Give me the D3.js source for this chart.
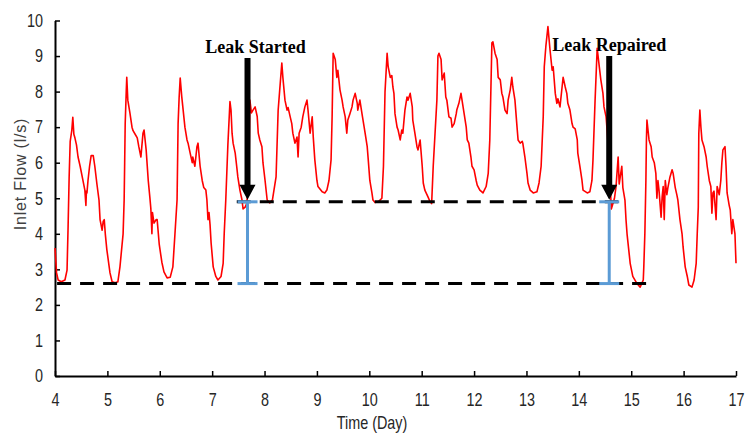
<!DOCTYPE html>
<html>
<head>
<meta charset="utf-8">
<script src="https://cdn.jsdelivr.net/npm/d3@7"></script>
<style>
  body { margin: 0; background: #fff; }
</style>
</head>
<body>
<div id="chart"></div>
<script>
/* global d3 */

const WIDTH = 752
const HEIGHT = 434

const xTicks = [4, 5, 6, 7, 8, 9, 10, 11, 12, 13, 14, 15, 16, 17]
const yTicks = [0, 1, 2, 3, 4, 5, 6, 7, 8, 9, 10]

// inlet flow (l/s): [day, flow]
const flowSeries = [
  [4.00, 3.6], [4.03, 2.9], [4.06, 2.7], [4.12, 2.65], [4.19, 2.7], [4.23, 2.98], [4.25, 4.2], [4.27, 5.6],
  [4.29, 6.6], [4.32, 6.9], [4.34, 7.28], [4.36, 6.8], [4.38, 6.7], [4.41, 6.5], [4.44, 6.16], [4.48, 5.9],
  [4.52, 5.6], [4.57, 5.23], [4.59, 4.8], [4.60, 5.2], [4.61, 5.15], [4.63, 5.5], [4.66, 5.9], [4.69, 6.2],
  [4.73, 6.2], [4.76, 5.9], [4.80, 5.4], [4.84, 4.95], [4.86, 4.4], [4.90, 4.1], [4.92, 4.35], [4.94, 4.4],
  [4.96, 4.0], [4.99, 3.55], [5.05, 2.9], [5.09, 2.65], [5.15, 2.62], [5.20, 2.65], [5.24, 3.07], [5.30, 4.0],
  [5.32, 4.95], [5.33, 6.0], [5.34, 7.1], [5.36, 8.0], [5.37, 8.4], [5.39, 7.76], [5.43, 7.4], [5.47, 7.0],
  [5.49, 6.9], [5.53, 6.8], [5.57, 6.7], [5.60, 6.45], [5.64, 6.16], [5.66, 6.5], [5.68, 6.83], [5.70, 6.92],
  [5.74, 6.36], [5.78, 5.5], [5.81, 5.04], [5.83, 4.7], [5.85, 4.0], [5.86, 4.6], [5.89, 4.3], [5.93, 4.4],
  [5.95, 4.4], [5.99, 3.7], [6.04, 3.2], [6.08, 2.93], [6.14, 2.76], [6.20, 2.78], [6.25, 3.07], [6.29, 4.0],
  [6.33, 4.95], [6.35, 7.1], [6.37, 7.85], [6.39, 8.38], [6.42, 7.85], [6.44, 7.57], [6.48, 7.0], [6.52, 6.64],
  [6.54, 6.55], [6.58, 6.27], [6.62, 6.0], [6.63, 6.16], [6.67, 5.9], [6.71, 6.45], [6.73, 6.55], [6.77, 5.9],
  [6.81, 5.5], [6.84, 5.3], [6.88, 5.23], [6.90, 4.95], [6.92, 4.4], [6.94, 4.6], [6.96, 4.25], [6.98, 3.74],
  [7.02, 3.07], [7.07, 2.8], [7.11, 2.7], [7.17, 2.8], [7.21, 3.17], [7.23, 4.0], [7.26, 4.95], [7.30, 6.5],
  [7.34, 7.72], [7.36, 7.48], [7.38, 6.83], [7.40, 6.55], [7.44, 6.27], [7.47, 5.88], [7.49, 5.6], [7.53, 5.23],
  [7.57, 4.95], [7.59, 4.7], [7.63, 4.75], [7.66, 4.85], [7.70, 5.5], [7.72, 7.76], [7.75, 7.4], [7.78, 7.48],
  [7.82, 7.57], [7.86, 7.3], [7.88, 6.83], [7.91, 6.64], [7.95, 6.45], [7.97, 6.0], [8.01, 5.5], [8.05, 4.95],
  [8.10, 4.87], [8.15, 4.95], [8.22, 5.6], [8.26, 7.48], [8.30, 8.24], [8.33, 8.8], [8.35, 8.4], [8.39, 7.76],
  [8.43, 7.48], [8.45, 7.55], [8.49, 7.29], [8.52, 7.1], [8.54, 6.83], [8.58, 6.55], [8.62, 6.72], [8.64, 6.16],
  [8.66, 6.83], [8.70, 7.0], [8.73, 7.29], [8.77, 7.57], [8.81, 7.76], [8.83, 7.48], [8.87, 6.83], [8.91, 7.29],
  [8.93, 6.72], [8.96, 6.08], [9.00, 5.5], [9.02, 5.33], [9.10, 5.18], [9.15, 5.15], [9.19, 5.23], [9.23, 5.5],
  [9.27, 6.08], [9.29, 7.29], [9.31, 9.08], [9.35, 8.9], [9.38, 8.4], [9.40, 8.6], [9.44, 8.05], [9.48, 7.76],
  [9.50, 7.57], [9.54, 7.29], [9.57, 6.83], [9.59, 7.2], [9.63, 7.38], [9.67, 7.57], [9.69, 7.76], [9.73, 7.95],
  [9.77, 7.67], [9.78, 7.48], [9.82, 7.76], [9.86, 7.38], [9.88, 7.2], [9.92, 6.83], [9.96, 6.45], [9.98, 6.08],
  [10.01, 5.5], [10.05, 5.15], [10.07, 4.95], [10.11, 4.88], [10.17, 4.9], [10.24, 5.0], [10.27, 5.9], [10.30, 8.0],
  [10.34, 9.08], [10.36, 8.7], [10.40, 8.4], [10.43, 8.45], [10.45, 8.13], [10.47, 7.95], [10.49, 7.38], [10.53, 7.0],
  [10.55, 6.92], [10.59, 6.64], [10.62, 6.92], [10.64, 6.83], [10.68, 7.48], [10.72, 7.85], [10.74, 7.76], [10.78, 7.95],
  [10.82, 7.57], [10.83, 7.2], [10.87, 6.83], [10.91, 6.45], [10.93, 6.36], [10.97, 6.64], [11.01, 5.9], [11.03, 5.43],
  [11.06, 5.23], [11.12, 5.04], [11.16, 4.9], [11.19, 4.85], [11.22, 5.9], [11.29, 7.76], [11.31, 9.0], [11.33, 9.08],
  [11.37, 8.9], [11.39, 8.33], [11.43, 8.52], [11.46, 7.85], [11.48, 7.76], [11.52, 7.29], [11.56, 7.25], [11.58, 7.0],
  [11.62, 7.1], [11.66, 7.38], [11.67, 7.48], [11.71, 7.67], [11.75, 7.95], [11.77, 7.76], [11.81, 7.38], [11.85, 7.0],
  [11.87, 6.64], [11.90, 6.55], [11.94, 6.16], [11.96, 5.9], [12.00, 5.8], [12.04, 5.5], [12.06, 5.37], [12.11, 5.23],
  [12.17, 5.15], [12.23, 5.33], [12.27, 5.7], [12.30, 6.64], [12.34, 9.37], [12.36, 9.4], [12.40, 9.08], [12.44, 8.9],
  [12.46, 8.4], [12.50, 8.33], [12.53, 7.95], [12.55, 7.85], [12.59, 7.48], [12.63, 7.38], [12.65, 7.76], [12.69, 8.05],
  [12.72, 8.4], [12.74, 8.13], [12.78, 7.76], [12.82, 7.0], [12.84, 6.64], [12.88, 6.55], [12.92, 6.6], [12.93, 6.55],
  [12.97, 6.16], [13.01, 5.7], [13.03, 5.43], [13.07, 5.23], [13.13, 5.15], [13.20, 5.18], [13.24, 5.43], [13.28, 5.9],
  [13.32, 7.29], [13.34, 8.7], [13.37, 9.27], [13.41, 9.83], [13.45, 9.17], [13.49, 8.6], [13.51, 8.7], [13.55, 7.95],
  [13.58, 7.67], [13.60, 7.8], [13.64, 7.57], [13.68, 8.13], [13.70, 8.4], [13.74, 8.13], [13.77, 7.95], [13.79, 7.67],
  [13.83, 7.48], [13.87, 7.1], [13.89, 7.0], [13.93, 6.95], [13.97, 6.64], [13.98, 6.27], [14.02, 5.9], [14.06, 5.5],
  [14.08, 5.23], [14.16, 5.15], [14.21, 5.18], [14.25, 5.5], [14.27, 6.08], [14.31, 7.76], [14.35, 9.22], [14.39, 8.7],
  [14.42, 8.33], [14.46, 7.95], [14.48, 7.57], [14.52, 7.29], [14.54, 6.9], [14.58, 6.0], [14.62, 4.7], [14.68, 5.0],
  [14.71, 5.33], [14.75, 6.16], [14.77, 5.4], [14.79, 5.6], [14.82, 5.9], [14.84, 5.3], [14.88, 4.95], [14.90, 4.4],
  [14.92, 4.0], [14.98, 3.17], [15.03, 2.8], [15.11, 2.6], [15.17, 2.5], [15.23, 2.7], [15.24, 3.07], [15.26, 4.0],
  [15.28, 5.5], [15.29, 6.64], [15.30, 7.2], [15.34, 6.64], [15.38, 6.45], [15.40, 6.16], [15.44, 6.0], [15.47, 5.7],
  [15.49, 5.0], [15.51, 5.5], [15.53, 5.23], [15.57, 4.47], [15.59, 5.04], [15.61, 5.33], [15.63, 4.4], [15.65, 5.5],
  [15.68, 5.1], [15.70, 5.3], [15.74, 5.6], [15.78, 5.8], [15.80, 5.7], [15.84, 5.3], [15.87, 5.1], [15.89, 4.95],
  [15.93, 4.4], [15.97, 4.0], [15.99, 3.63], [16.03, 3.07], [16.07, 2.8], [16.10, 2.56], [16.16, 2.5], [16.20, 2.7],
  [16.24, 3.17], [16.26, 4.0], [16.28, 4.75], [16.29, 6.83], [16.31, 7.48], [16.33, 7.0], [16.35, 6.64], [16.39, 6.45],
  [16.43, 6.16], [16.45, 5.9], [16.49, 5.5], [16.52, 5.33], [16.54, 4.58], [16.56, 5.15], [16.58, 5.2], [16.62, 4.4],
  [16.64, 5.33], [16.68, 5.1], [16.71, 5.5], [16.73, 6.0], [16.75, 6.36], [16.79, 6.45], [16.81, 5.9], [16.83, 5.15],
  [16.87, 4.8], [16.89, 4.67], [16.92, 4.0], [16.94, 4.4], [16.98, 4.0], [17.00, 3.17]
]

// night-flow levels before and during the leak
const baseFlow = 2.6
const leakFlow = 4.9
const baseSpan = [4.04, 15.36]
const leakSpan = [7.47, 14.75]

const eventLabels = ['Leak Started', 'Leak Repaired']
const eventDays = [7.675, 14.58]
const labelShift = [8, 0]

const svg = d3.select('#chart')
  .append('svg')
  .attr('width', WIDTH)
  .attr('height', HEIGHT)

const x = d3.scaleLinear().domain([4, 17]).range([55, 736])
const y = d3.scaleLinear().domain([0, 10]).range([376, 20.5])

const sansFont = '"Liberation Sans", Arial, sans-serif'
// the original labels look squeezed sideways, so the text is narrowed with a scale
const SQUEEZE = 0.8

// axes, ticks point inward like the excel original
const xAxis = svg.append('g')
  .attr('transform', `translate(0,${y(0)})`)
  .call(d3.axisBottom(x).tickValues(xTicks).tickFormat(d3.format('d'))
    .tickSizeInner(-5).tickSizeOuter(0).tickPadding(17))

const yAxis = svg.append('g')
  .attr('transform', `translate(${x(4)},0)`)
  .call(d3.axisLeft(y).tickValues(yTicks).tickFormat(d3.format('d'))
    .tickSizeInner(-5).tickSizeOuter(0).tickPadding(12))

;[xAxis, yAxis].forEach((g) => {
  g.select('.domain').attr('stroke', '#000').attr('stroke-width', 2)
  g.selectAll('.tick line').attr('stroke', '#000').attr('stroke-width', 1.5)
  g.selectAll('.tick text')
    .style('font-family', sansFont)
    .style('font-size', '18px')
    .attr('fill', '#262626')
    .attr('transform', `scale(${SQUEEZE},1)`)
})
yAxis.selectAll('.tick text').attr('x', -12 / SQUEEZE)

// axis titles
svg.append('text')
  .attr('transform', `translate(372,429) scale(${SQUEEZE},1)`)
  .attr('text-anchor', 'middle')
  .style('font-family', sansFont)
  .style('font-size', '18px')
  .attr('fill', '#262626')
  .text('Time (Day)')

svg.append('text')
  .attr('transform', 'translate(26,174) rotate(-90)')
  .attr('text-anchor', 'middle')
  .style('font-family', sansFont)
  .style('font-size', '16px')
  .style('letter-spacing', '0.8px')
  .attr('fill', '#404040')
  .text('Inlet Flow  (l/s)')

// the flow trace
const line = d3.line()
  .x((d) => x(d[0]))
  .y((d) => y(d[1]))

svg.append('path')
  .datum(flowSeries)
  .attr('d', line)
  .attr('fill', 'none')
  .attr('stroke', '#ff0000')
  .attr('stroke-width', 1.6)
  .attr('stroke-linejoin', 'round')

// dashed reference levels
const levels = [
  { v: baseFlow, span: baseSpan },
  { v: leakFlow, span: leakSpan }
]
svg.selectAll('.level')
  .data(levels)
  .join('line')
  .attr('x1', (d) => x(d.span[0]))
  .attr('x2', (d) => x(d.span[1]))
  .attr('y1', (d) => y(d.v))
  .attr('y2', (d) => y(d.v))
  .attr('stroke', '#000')
  .attr('stroke-width', 3)
  .attr('stroke-dasharray', '14,9')

// blue I-bars showing the leak size
const bars = svg.selectAll('.ibar')
  .data(eventDays)
  .join('g')
  .attr('stroke', '#5b9bd5')
  .attr('stroke-width', 3)

bars.append('line')
  .attr('x1', (d) => x(d)).attr('x2', (d) => x(d))
  .attr('y1', y(leakFlow)).attr('y2', y(baseFlow))
bars.selectAll('.cap')
  .data([leakFlow, baseFlow])
  .join('line')
  .attr('x1', function() { return x(d3.select(this.parentNode).datum()) - 10 })
  .attr('x2', function() { return x(d3.select(this.parentNode).datum()) + 10 })
  .attr('y1', (v) => y(v))
  .attr('y2', (v) => y(v))

// arrows and labels
const tipY = y(leakFlow) - 2
eventDays.forEach((day, i) => {
  const cx = x(day)
  const top = i === 0 ? 58 : 56
  const headY = tipY - 15
  svg.append('path')
    .attr('d', `M${cx - 3},${top}H${cx + 3}V${headY}H${cx + 8}L${cx},${tipY}L${cx - 8},${headY}H${cx - 3}Z`)
    .attr('fill', '#000')
  svg.append('text')
    .attr('x', cx + labelShift[i])
    .attr('y', i === 0 ? 53 : 51)
    .attr('text-anchor', 'middle')
    .style('font-family', '"Liberation Serif", "Times New Roman", serif')
    .style('font-weight', 'bold')
    .style('font-size', '18px')
    .attr('fill', '#000')
    .text(eventLabels[i])
})
</script>
</body>
</html>
